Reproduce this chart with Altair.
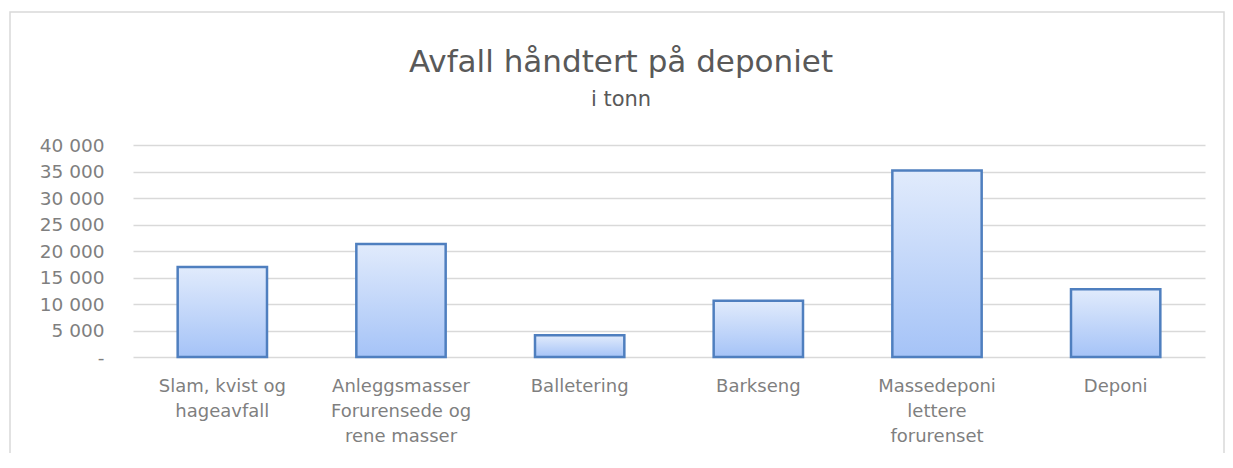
import altair as alt
import pandas as pd

title_text = "Avfall håndtert på deponiet"
subtitle_text = "i tonn"

categories = [
    "Slam, kvist og|hageavfall",
    "Anleggsmasser|Forurensede og|rene masser",
    "Balletering",
    "Barkseng",
    "Massedeponi|lettere|forurenset",
    "Deponi",
]
values = [17000, 21300, 4100, 10600, 35200, 12800]
y_ticks = [0, 5000, 10000, 15000, 20000, 25000, 30000, 35000, 40000]

df = pd.DataFrame({"kategori": categories, "tonn": values})

FONT = "DejaVu Sans"
LABEL_COLOR = "#7f7f7f"

gradient = alt.Gradient(
    gradient="linear",
    stops=[
        alt.GradientStop(color="#e1ebfc", offset=0),
        alt.GradientStop(color="#a5c3f7", offset=1),
    ],
    x1=0, x2=0, y1=0, y2=1,
)

bars = alt.Chart(df).mark_bar(
    color=gradient, stroke="#4f7fbf", strokeWidth=2.5
).encode(
    x=alt.X(
        "kategori:N",
        sort=None,
        title=None,
        scale=alt.Scale(paddingInner=0.5, paddingOuter=0.25),
        axis=alt.Axis(
            labelAngle=0,
            labelExpr="split(datum.value, '|')",
            labelFont=FONT,
            labelFontSize=18,
            labelColor=LABEL_COLOR,
            labelLineHeight=25,
            labelPadding=20,
            ticks=False,
            domain=False,
            grid=False,
            labelLimit=300,
        ),
    ),
    y=alt.Y(
        "tonn:Q",
        title=None,
        scale=alt.Scale(domain=[0, 40000], nice=False),
        axis=alt.Axis(
            values=y_ticks,
            labelExpr="datum.value == 0 ? '-' : replace(format(datum.value, ','), ',', ' ')",
            labelFont=FONT,
            labelFontSize=18.5,
            labelColor=LABEL_COLOR,
            labelPadding=29,
            ticks=False,
            domain=False,
            gridColor="#d9d9d9",
            gridWidth=1.5,
        ),
    ),
)

one = pd.DataFrame({"f": [0]})

frame = alt.Chart(one).mark_rect(
    filled=False, stroke="#d9d9d9", strokeWidth=1.5
).encode(
    x=alt.value(-123), x2=alt.value(1091), y=alt.value(-133), y2=alt.value(420)
)

title_mark = alt.Chart(one).mark_text(
    font=FONT, fontSize=31, color="#595959", align="center", baseline="alphabetic"
).encode(x=alt.value(488), y=alt.value(-73), text=alt.value(title_text))

subtitle_mark = alt.Chart(one).mark_text(
    font=FONT, fontSize=21, color="#595959", align="center", baseline="alphabetic"
).encode(x=alt.value(488), y=alt.value(-39), text=alt.value(subtitle_text))

chart = alt.layer(frame, bars, title_mark, subtitle_mark).properties(
    width=1072,
    height=212,
    autosize=alt.AutoSizeParams(type="none"),
    padding={"left": 125, "top": 137, "right": 20, "bottom": 96},
    view=alt.ViewBackground(stroke="transparent", strokeWidth=0),
).configure_view(stroke="transparent", strokeWidth=0).configure(background="white")

chart.save("out.html", embed_options={"renderer": "svg", "actions": False})
